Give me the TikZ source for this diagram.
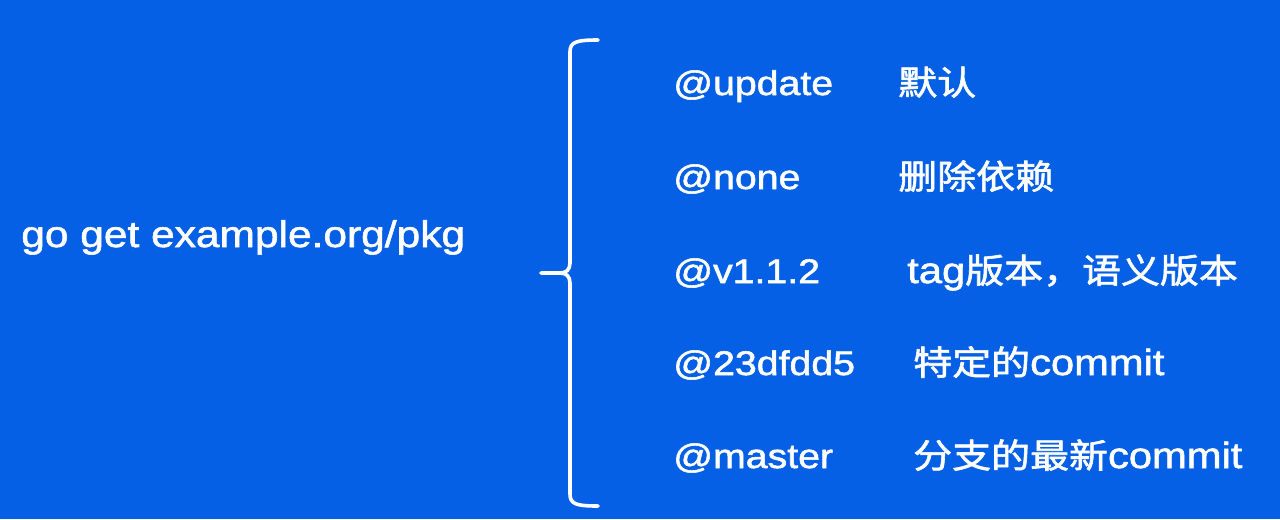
\documentclass[tikz,border=0pt]{standalone}
\usepackage{fontspec}
\setmainfont{Liberation Sans}[FakeStretch=1.15,FakeBold=1.6]
\newfontfamily\cjk{Noto Sans CJK SC}[FakeStretch=1.15,FakeBold=1.8]
\definecolor{slideblue}{RGB}{5,96,230}
\tikzset{
	cmdtext/.style={anchor=base west,inner sep=0.75pt,text=white,font=\fontsize{27.7}{32}\selectfont},
	opttext/.style={anchor=base west,inner sep=0.75pt,text=white,font=\fontsize{25.6}{30}\selectfont},
	desctext/.style={opttext,font=\fontsize{25.4}{30}\selectfont\cjk},
	mixtext/.style={opttext,font=\fontsize{27.2}{30}\selectfont},
	bracepath/.style={draw=white,line width=2.7pt,line cap=round,line join=round}
}
\newcommand{\cjktext}[1]{{\fontsize{25.4}{30}\selectfont\cjk #1}}
\begin{document}
\begin{tikzpicture}[x=0.75pt,y=0.75pt,yscale=-1,xscale=1]
			%set diagram size 1280 x 519
			\useasboundingbox (0,0) rectangle (1280,519);
			\fill [slideblue] (0,0) rectangle (1280,519);
			
			% Text Node
			\node (cmd) at (20,247) [cmdtext] {go get example.org/pkg};
			
			%Shape: Brace
			\coordinate (bracetop) at (598,40);
			\coordinate (bracetip) at (541,273);
			\coordinate (bracebot) at (598,506);
			\draw [bracepath] (bracetop) .. controls (576,40) and (570,42) .. (570,52) -- (570,263) .. controls (570,270) and (566,273) .. (560,273) -- (bracetip);
			\draw [bracepath] (560,273) .. controls (566,273) and (570,276) .. (570,283) -- (570,494) .. controls (570,504) and (576,506) .. (bracebot);
			
			% Text Node
			\node (optupdate) at (672,95) [opttext] {@update};
			% Text Node
			\node (optnone) at (672,189) [opttext] {@none};
			% Text Node
			\node (opttag) at (672,283) [opttext] {@v1.1.2};
			% Text Node
			\node (optcommit) at (672,375) [opttext] {@23dfdd5};
			% Text Node
			\node (optmaster) at (672,468) [opttext] {@master};
			
			% Text Node
			\node (descupdate) at (897,95) [desctext] {默认};
			% Text Node
			\node (descnone) at (897,189) [desctext] {删除依赖};
			% Text Node
			\node (desctag) at (906,283) [mixtext] {tag\cjktext{版本，语义版本}};
			% Text Node
			\node (desccommit) at (912,375) [mixtext] {\cjktext{特定的}commit};
			% Text Node
			\node (descmaster) at (912,468) [mixtext] {\cjktext{分支的最新}commit};
			
\end{tikzpicture}
\end{document}
